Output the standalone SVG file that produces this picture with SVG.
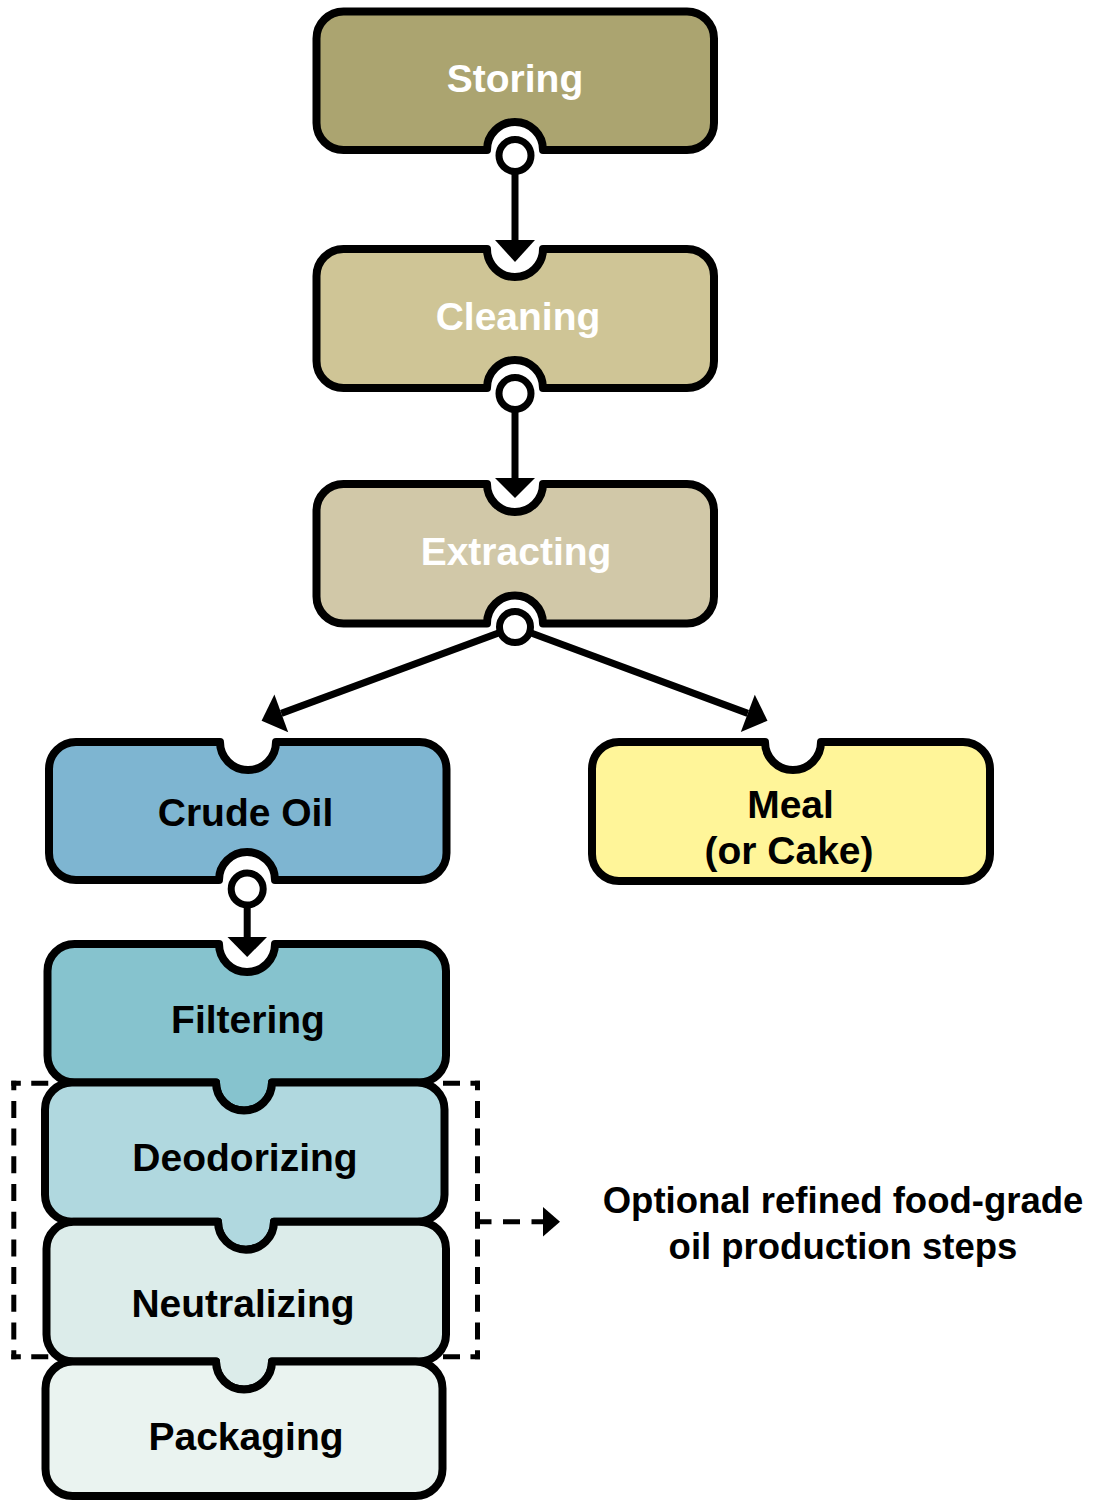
<svg xmlns="http://www.w3.org/2000/svg" width="1094" height="1501" viewBox="0 0 1094 1501">
<style>
.box{stroke:#000;stroke-width:8;stroke-linejoin:round}
.lbl{font-family:"Liberation Sans",Arial,sans-serif;font-weight:bold;font-size:39px;text-anchor:middle}
.w{fill:#fff}
.k{fill:#000}
.desc{font-family:"Liberation Sans",Arial,sans-serif;font-weight:bold;font-size:36.5px;text-anchor:middle;fill:#000}
.ln{stroke:#000;stroke-width:7;fill:none}
.dot{fill:#fff;stroke:#000;stroke-width:7}
.head{fill:#000}
.dash{stroke:#000;stroke-width:5;stroke-linecap:square;stroke-dasharray:12 15.7;stroke-dashoffset:7.5;fill:none}
.dashh{stroke:#000;stroke-width:5;stroke-linecap:square;stroke-dasharray:12 15.45;stroke-dashoffset:7.5;fill:none}
</style>
<rect width="1094" height="1501" fill="#fff"/>
<g id="optional-group">
<line class="dashh" x1="13.8" y1="1083.2" x2="477.5" y2="1083.2"/>
<line class="dashh" x1="13.8" y1="1356.8" x2="477.5" y2="1356.8"/>
<line class="dash" x1="13.8" y1="1083.2" x2="13.8" y2="1356.8"/>
<line class="dash" x1="477.5" y1="1083.2" x2="477.5" y2="1356.8"/>
</g>
<g id="storing">
<path class="box" fill="#ABA470" d="M 343.5 11.5 H 687 A 27 27 0 0 1 714 38.5 V 123 A 27 27 0 0 1 687 150 H 543 A 28 28 0 0 0 487 150 H 343.5 A 27 27 0 0 1 316.5 123 V 38.5 A 27 27 0 0 1 343.5 11.5 Z"/>
<text class="lbl w" x="515" y="92">Storing</text>
</g>
<g id="cleaning">
<path class="box" fill="#CFC596" d="M 343.5 249 H 487 A 28 28 0 0 0 543 249 H 687 A 27 27 0 0 1 714 276 V 361 A 27 27 0 0 1 687 388 H 543 A 28 28 0 0 0 487 388 H 343.5 A 27 27 0 0 1 316.5 361 V 276 A 27 27 0 0 1 343.5 249 Z"/>
<text class="lbl w" x="518" y="330">Cleaning</text>
</g>
<g id="extracting">
<path class="box" fill="#D1C8A8" d="M 343.5 484 H 487 A 28 28 0 0 0 543 484 H 687 A 27 27 0 0 1 714 511 V 596.5 A 27 27 0 0 1 687 623.5 H 543 A 28 28 0 0 0 487 623.5 H 343.5 A 27 27 0 0 1 316.5 596.5 V 511 A 27 27 0 0 1 343.5 484 Z"/>
<text class="lbl w" x="516" y="565">Extracting</text>
</g>
<g id="crude-oil">
<path class="box" fill="#7EB5D1" d="M 76 742 H 220 A 28 28 0 0 0 276 742 H 419.5 A 27 27 0 0 1 446.5 769 V 853 A 27 27 0 0 1 419.5 880 H 275 A 28 28 0 0 0 219 880 H 76 A 27 27 0 0 1 49 853 V 769 A 27 27 0 0 1 76 742 Z"/>
<text class="lbl k" x="245.5" y="826">Crude Oil</text>
</g>
<g id="meal">
<path class="box" fill="#FFF599" d="M 619 742 H 765 A 28 28 0 0 0 821 742 H 963 A 27 27 0 0 1 990 769 V 854 A 27 27 0 0 1 963 881 H 619 A 27 27 0 0 1 592 854 V 769 A 27 27 0 0 1 619 742 Z"/>
<text class="lbl k" x="790.5" y="817.5">Meal</text>
<text class="lbl k" x="789" y="864">(or Cake)</text>
</g>
<g id="filtering">
<path class="box" fill="#86C3CE" d="M 74.5 944 H 219 A 28 28 0 0 0 275 944 H 419 A 27 27 0 0 1 446 971 V 1055.5 A 27 27 0 0 1 419 1082.5 H 272 A 28 28 0 0 1 216 1082.5 H 74.5 A 27 27 0 0 1 47.5 1055.5 V 971 A 27 27 0 0 1 74.5 944 Z"/>
<text class="lbl k" x="248" y="1032.5">Filtering</text>
</g>
<g id="deodorizing">
<path class="box" fill="#B0D8DF" d="M 72 1082.5 H 216 A 28 28 0 0 0 272 1082.5 H 417.5 A 27 27 0 0 1 444.5 1109.5 V 1194.7 A 27 27 0 0 1 417.5 1221.7 H 274 A 28 28 0 0 1 218 1221.7 H 72 A 27 27 0 0 1 45 1194.7 V 1109.5 A 27 27 0 0 1 72 1082.5 Z"/>
<text class="lbl k" x="245" y="1171">Deodorizing</text>
</g>
<g id="neutralizing">
<path class="box" fill="#DCECEA" d="M 73.5 1221.7 H 218 A 28 28 0 0 0 274 1221.7 H 419 A 27 27 0 0 1 446 1248.7 V 1334.5 A 27 27 0 0 1 419 1361.5 H 272 A 28 28 0 0 1 216 1361.5 H 73.5 A 27 27 0 0 1 46.5 1334.5 V 1248.7 A 27 27 0 0 1 73.5 1221.7 Z"/>
<text class="lbl k" x="243" y="1316.5">Neutralizing</text>
</g>
<g id="packaging">
<path class="box" fill="#EAF3F0" d="M 72.5 1361.5 H 216 A 28 28 0 0 0 272 1361.5 H 415.5 A 27 27 0 0 1 442.5 1388.5 V 1469 A 27 27 0 0 1 415.5 1496 H 72.5 A 27 27 0 0 1 45.5 1469 V 1388.5 A 27 27 0 0 1 72.5 1361.5 Z"/>
<text class="lbl k" x="246" y="1450">Packaging</text>
</g>
<g id="connectors">
<line class="ln" x1="515" y1="160" x2="515" y2="242"/>
<polygon class="head" points="495,240 535,240 515,262"/>
<circle class="dot" cx="515" cy="155.5" r="16"/>
<line class="ln" x1="515" y1="398" x2="515" y2="480"/>
<polygon class="head" points="495,478 535,478 515,498"/>
<circle class="dot" cx="515" cy="393.5" r="16"/>
<line class="ln" x1="515" y1="627" x2="281.3" y2="713.4"/>
<polygon class="head" points="261.6,720.7 274.4,694.6 288.2,732.2"/>
<line class="ln" x1="515" y1="627" x2="747.8" y2="713.4"/>
<polygon class="head" points="767.5,720.7 754.8,694.7 740.8,732.1"/>
<circle class="dot" cx="515" cy="627" r="15.5"/>
<line class="ln" x1="247.2" y1="894" x2="247.2" y2="939"/>
<polygon class="head" points="227.5,937 267,937 247.2,957"/>
<circle class="dot" cx="247.2" cy="889" r="16"/>
<line x1="477.5" y1="1221.7" x2="548" y2="1221.7" stroke="#000" stroke-width="5" stroke-dasharray="14 11.5 17 11.5 17"/>
<polygon class="head" points="543,1207 560,1221.7 543,1236.5"/>
</g>
<g id="note">
<text class="desc" x="843" y="1213">Optional refined food-grade</text>
<text class="desc" x="843" y="1259">oil production steps</text>
</g>
</svg>
